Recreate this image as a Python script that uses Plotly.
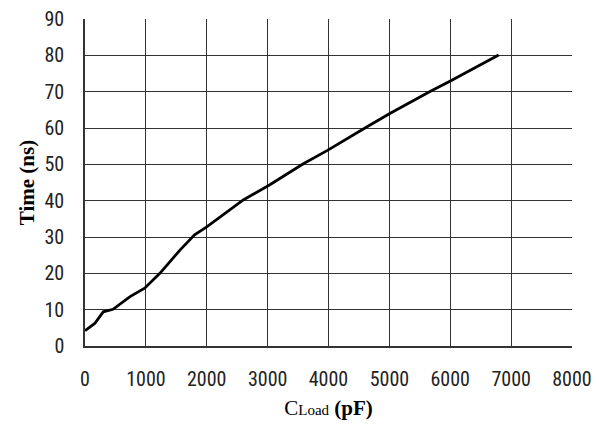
import plotly.graph_objects as go

# Load capacitance (pF) and time (ns)
c_load_pf = [0, 160, 300, 460, 740, 980, 1230, 1560, 1800, 2000, 2600,
             3030, 3580, 3990, 4620, 5000, 5660, 6010, 6795]
time_ns = [4.2, 6.2, 9.4, 10.1, 13.6, 15.9, 20.0, 26.4, 30.6, 32.8, 40.2,
           44.3, 50.1, 53.9, 60.2, 63.9, 70.0, 73.0, 80.1]

x_ticks = [0, 1000, 2000, 3000, 4000, 5000, 6000, 7000, 8000]
y_ticks = [0, 10, 20, 30, 40, 50, 60, 70, 80, 90]

tick_font = dict(family="Roboto Condensed, Liberation Sans Narrow, Liberation Sans, Arial, sans-serif",
                 size=20, color="#222")
title_font = dict(family="Liberation Serif, Times New Roman, serif", size=21, color="#000")

fig = go.Figure()
fig.add_trace(go.Scatter(x=c_load_pf, y=time_ns, mode="lines",
                         line=dict(color="#000", width=2.8), showlegend=False))

fig.update_layout(
    width=599, height=430,
    margin=dict(l=85, r=27, t=19, b=84),
    paper_bgcolor="white", plot_bgcolor="white",
)
fig.update_xaxes(
    range=[0, 8000], tickvals=x_ticks, ticktext=[str(v) for v in x_ticks],
    showgrid=True, gridcolor="#333", gridwidth=1,
    showline=True, linecolor="#333", linewidth=1.5, mirror=False,
    zeroline=False, ticks="", tickfont=tick_font, ticklabelstandoff=14,
    automargin=False,
    title=dict(text="C<span style='font-size:15px'>Load</span> <b>(pF)</b>",
               font=title_font, standoff=11),
)
fig.update_yaxes(
    range=[0, 90], tickvals=y_ticks, ticktext=[str(v) for v in y_ticks],
    showgrid=True, gridcolor="#333", gridwidth=1,
    showline=True, linecolor="#333", linewidth=1.5, mirror=False,
    zeroline=False, ticks="", tickfont=tick_font, ticklabelstandoff=15,
    automargin=False,
    title=dict(text="<b>Time (ns)</b>", font=title_font, standoff=4),
)

fig.write_html("out.html")
